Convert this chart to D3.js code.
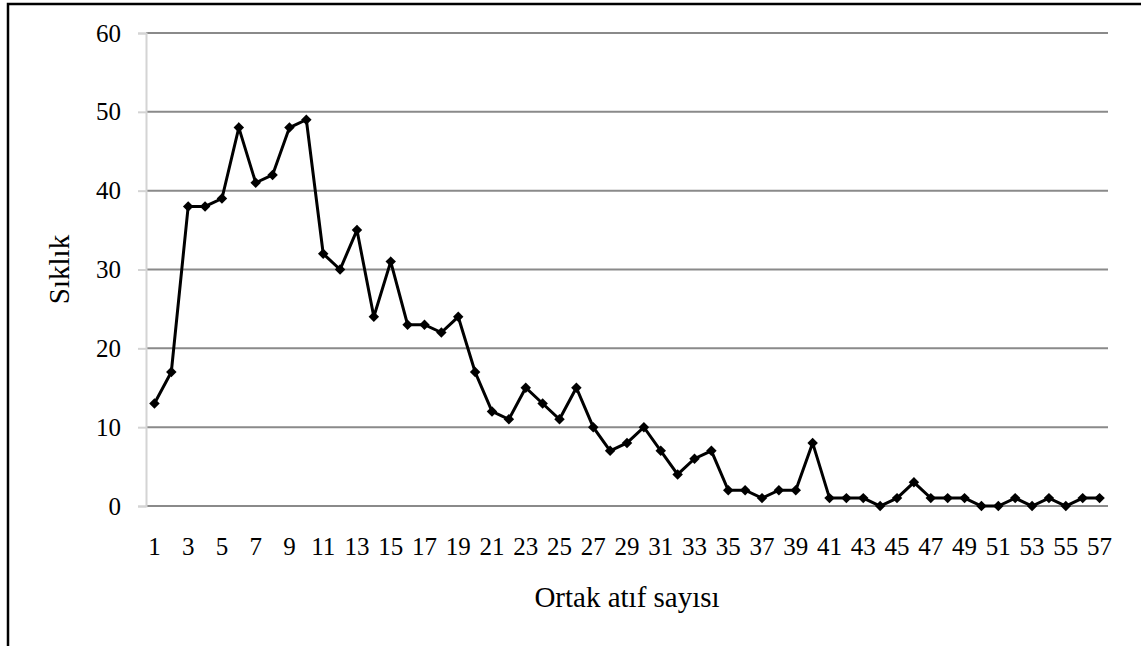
<!DOCTYPE html>
<html>
<head>
<meta charset="utf-8">
<script src="https://cdn.jsdelivr.net/npm/d3@7"></script>
<style>
  html, body { margin: 0; padding: 0; background: #fff; }
  svg { display: block; }
  text { font-family: "Liberation Serif", "Times New Roman", serif; fill: #000; }
</style>
</head>
<body>
<div id="chart"></div>
<script>
// Ortak atıf sayısı (co-citation count) vs Sıklık (frequency)
const categories = d3.range(1, 58);
const values = [
  13, 17, 38, 38, 39, 48, 41, 42, 48, 49,
  32, 30, 35, 24, 31, 23, 23, 22, 24, 17,
  12, 11, 15, 13, 11, 15, 10, 7, 8, 10,
  7, 4, 6, 7, 2, 2, 1, 2, 2, 8,
  1, 1, 1, 0, 1, 3, 1, 1, 1, 0,
  0, 1, 0, 1, 0, 1, 1
];
const yTicks = [0, 10, 20, 30, 40, 50, 60];
const xTickLabels = categories.filter(d => d % 2 === 1);

const width = 1141;
const height = 646;
const margin = { top: 33, right: 33, bottom: 140, left: 146 };

const svg = d3.select('#chart')
  .append('svg')
  .attr('width', width)
  .attr('height', height);

// outer frame (top and left edges visible)
svg.append('path')
  .attr('d', `M8,${height} L8,4 L${width},4`)
  .attr('fill', 'none')
  .attr('stroke', '#000')
  .attr('stroke-width', 2.5);

const x = d3.scaleBand()
  .domain(categories)
  .range([margin.left, width - margin.right]);

const y = d3.scaleLinear()
  .domain([0, 60])
  .range([height - margin.bottom, margin.top]);

// gridlines
svg.append('g')
  .selectAll('line')
  .data(yTicks)
  .join('line')
  .attr('x1', margin.left)
  .attr('x2', width - margin.right)
  .attr('y1', d => y(d))
  .attr('y2', d => y(d))
  .attr('stroke', '#8a8a8a')
  .attr('stroke-width', 2);

// y axis
const yAxis = svg.append('g')
  .attr('transform', `translate(${margin.left},0)`)
  .call(d3.axisLeft(y).tickValues(yTicks).tickSize(8).tickPadding(17));
yAxis.select('.domain').attr('stroke', '#d4d4d4').attr('stroke-width', 2);
yAxis.selectAll('.tick line').attr('stroke', '#d4d4d4').attr('stroke-width', 2);
yAxis.selectAll('.tick text')
  .attr('font-size', 25)
  .attr('fill', '#000')
  .style('font-family', '"Liberation Serif", serif');

// x axis labels (every other category)
const xAxis = svg.append('g')
  .attr('transform', `translate(0,${y(0)})`)
  .call(d3.axisBottom(x).tickValues(xTickLabels).tickSize(0).tickPadding(31));
xAxis.select('.domain').remove();
xAxis.selectAll('.tick text')
  .attr('font-size', 25)
  .attr('fill', '#000')
  .style('font-family', '"Liberation Serif", serif');

// line
const line = d3.line()
  .x((d, i) => x(categories[i]) + x.bandwidth() / 2)
  .y(d => y(d));

svg.append('path')
  .datum(values)
  .attr('d', line)
  .attr('fill', 'none')
  .attr('stroke', '#000')
  .attr('stroke-width', 3)
  .attr('stroke-linejoin', 'miter');

// diamond markers
svg.append('g')
  .selectAll('path')
  .data(values)
  .join('path')
  .attr('d', d3.symbol().type(d3.symbolDiamond2).size(70))
  .attr('transform', (d, i) => `translate(${x(categories[i]) + x.bandwidth() / 2},${y(d)})`)
  .attr('fill', '#000');

// axis titles
svg.append('text')
  .attr('x', (margin.left + width - margin.right) / 2)
  .attr('y', 607)
  .attr('text-anchor', 'middle')
  .attr('font-size', 29)
  .text('Ortak atıf sayısı');

svg.append('text')
  .attr('transform', `translate(69,${(y(0) + y(60)) / 2}) rotate(-90)`)
  .attr('text-anchor', 'middle')
  .attr('font-size', 29)
  .text('Sıklık');
</script>
</body>
</html>
